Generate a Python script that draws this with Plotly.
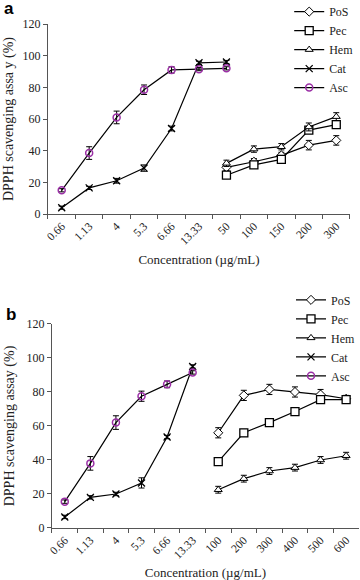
import plotly.graph_objects as go

# ---------- Panel a data ----------
cats_a = ["0.66", "1.13", "4", "5.3", "6.66", "13.33", "50", "100", "150", "200", "300"]
low_cats_a = ["0.66", "1.13", "4", "5.3", "6.66", "13.33", "50"]
high_cats_a = ["50", "100", "150", "200", "300"]
pos_a = [29.5, 33, 37, 43.5, 46.5]
pos_a_err = [2, 2, 2, 3, 3]
pec_a = [24.5, 31, 34.5, 53, 56.5]
pec_a_err = [2, 2, 2, 2, 2.5]
hem_a = [32, 41, 42.5, 55, 61.5]
hem_a_err = [2, 2, 2, 2.5, 2.5]
cat_a = [4, 16.5, 21, 29, 54, 95.5, 96]
cat_a_err = [1, 1, 1.5, 2, 1.5, 1, 1]
asc_a = [15, 38.5, 61, 78.5, 91, 91.5, 92]
asc_a_err = [1, 4, 4, 3, 2, 1, 1]

# ---------- Panel b data ----------
cats_b = ["0.66", "1.13", "4", "5.3", "6.66", "13.33", "100", "200", "300", "400", "500", "600"]
low_cats_b = ["0.66", "1.13", "4", "5.3", "6.66", "13.33"]
high_cats_b = ["100", "200", "300", "400", "500", "600"]
pos_b = [56, 78, 81.5, 80, 78.5, 76]
pos_b_err = [3, 3, 3, 3, 3, 2]
pec_b = [39, 56, 62, 68.5, 75.5, 75.5]
pec_b_err = [2, 2, 2, 2, 2, 2]
hem_b = [22.5, 29, 33.5, 35.5, 40, 42.5]
hem_b_err = [2, 2, 2, 2, 2, 2]
cat_b = [6.5, 18, 20, 26.5, 53.5, 95]
cat_b_err = [1, 1, 1, 3, 1, 1]
asc_b = [15.5, 38, 62, 77.5, 84.5, 91.5]
asc_b_err = [1, 4, 4, 3, 2, 1]

FONT = "Liberation Serif, Times New Roman, serif"
PURPLE = "#9b2fa6"

styles = {
    "PoS": dict(symbol="diamond", size=7, fill="white", color="black", lw=1),
    "Pec": dict(symbol="square", size=8, fill="white", color="black", lw=1.3),
    "Hem": dict(symbol="triangle-up", size=7, fill="white", color="black", lw=1),
    "Cat": dict(symbol="x-thin-open", size=7, fill="black", color="black", lw=1.3),
    "Asc": dict(symbol="circle-open", size=7, fill=PURPLE, color=PURPLE, lw=1.5),
}

fig = go.Figure()

def add(name, x, y, err, xa, ya, legend):
    st = styles[name]
    fig.add_trace(go.Scatter(
        x=x, y=y, name=name, mode="lines+markers",
        line=dict(color="black", width=1.2),
        marker=dict(symbol=st["symbol"], size=st["size"], color=st["fill"],
                    line=dict(color=st["color"], width=st["lw"])),
        error_y=dict(type="data", array=err, visible=True, color="black",
                     thickness=1, width=3),
        xaxis=xa, yaxis=ya, legend=legend,
    ))

add("PoS", high_cats_a, pos_a, pos_a_err, "x", "y", "legend")
add("Pec", high_cats_a, pec_a, pec_a_err, "x", "y", "legend")
add("Hem", high_cats_a, hem_a, hem_a_err, "x", "y", "legend")
add("Cat", low_cats_a, cat_a, cat_a_err, "x", "y", "legend")
add("Asc", low_cats_a, asc_a, asc_a_err, "x", "y", "legend")

add("PoS", high_cats_b, pos_b, pos_b_err, "x2", "y2", "legend2")
add("Pec", high_cats_b, pec_b, pec_b_err, "x2", "y2", "legend2")
add("Hem", high_cats_b, hem_b, hem_b_err, "x2", "y2", "legend2")
add("Cat", low_cats_b, cat_b, cat_b_err, "x2", "y2", "legend2")
add("Asc", low_cats_b, asc_b, asc_b_err, "x2", "y2", "legend2")

axis_common = dict(showline=True, linecolor="#555", linewidth=1, ticks="outside",
                   ticklen=4, tickcolor="#555", showgrid=False, zeroline=False,
                   automargin=False)
xtickfont = dict(family=FONT, size=11.5, color="#222")
ytickfont = dict(family=FONT, size=12, color="#222")
xtitlefont = dict(family=FONT, size=13, color="#222")
ytitlefont = dict(family=FONT, size=14, color="#222")

fig.update_layout(
    width=360, height=580,
    margin=dict(l=0, r=0, t=0, b=0, autoexpand=False),
    paper_bgcolor="white", plot_bgcolor="white",
    font=dict(family=FONT, size=12, color="#222"),
    xaxis=dict(domain=[0.1333, 0.9722], anchor="y", type="category",
               categoryorder="array", categoryarray=cats_a,
               range=[-0.5, len(cats_a) - 0.5], tickson="boundaries",
               tickangle=-45, tickfont=xtickfont,
               title=dict(text="Concentration (µg/mL)", font=xtitlefont, standoff=9),
               **axis_common),
    yaxis=dict(domain=[0.631, 0.9586], anchor="x", range=[0, 120], dtick=20,
               tickfont=ytickfont,
               title=dict(text="DPPH scavenging assa y (%)", font=ytitlefont, standoff=5),
               **axis_common),
    xaxis2=dict(domain=[0.1444, 0.997], anchor="y2", type="category",
                categoryorder="array", categoryarray=cats_b,
                range=[-0.5, len(cats_b) - 0.5], tickson="boundaries",
                tickangle=-45, tickfont=xtickfont,
                title=dict(text="Concentration (µg/mL)", font=xtitlefont, standoff=9),
                **axis_common),
    yaxis2=dict(domain=[0.0897, 0.4414], anchor="x2", range=[0, 120], dtick=20,
                tickfont=ytickfont,
                title=dict(text="DPPH scavenging assay (%)", font=ytitlefont, standoff=8),
                **axis_common),
    legend=dict(x=0.995, y=1.005, xanchor="right", yanchor="top", bgcolor="rgba(0,0,0,0)",
                font=dict(family=FONT, size=12), itemwidth=30, tracegroupgap=0),
    legend2=dict(x=1.0, y=0.508, xanchor="right", yanchor="top", bgcolor="rgba(0,0,0,0)",
                 font=dict(family=FONT, size=12), itemwidth=30, tracegroupgap=0),
    annotations=[
        dict(text="<b>a</b>", x=0.005, y=0.985, xref="paper", yref="paper",
             xanchor="left", yanchor="middle", showarrow=False,
             font=dict(family="Liberation Sans, Arial, sans-serif", size=17, color="black")),
        dict(text="<b>b</b>", x=0.01, y=0.458, xref="paper", yref="paper",
             xanchor="left", yanchor="middle", showarrow=False,
             font=dict(family="Liberation Sans, Arial, sans-serif", size=17, color="black")),
    ],
)

fig.write_html("out.html", config={"displayModeBar": False},
               post_script="document.body.style.margin='0';")
